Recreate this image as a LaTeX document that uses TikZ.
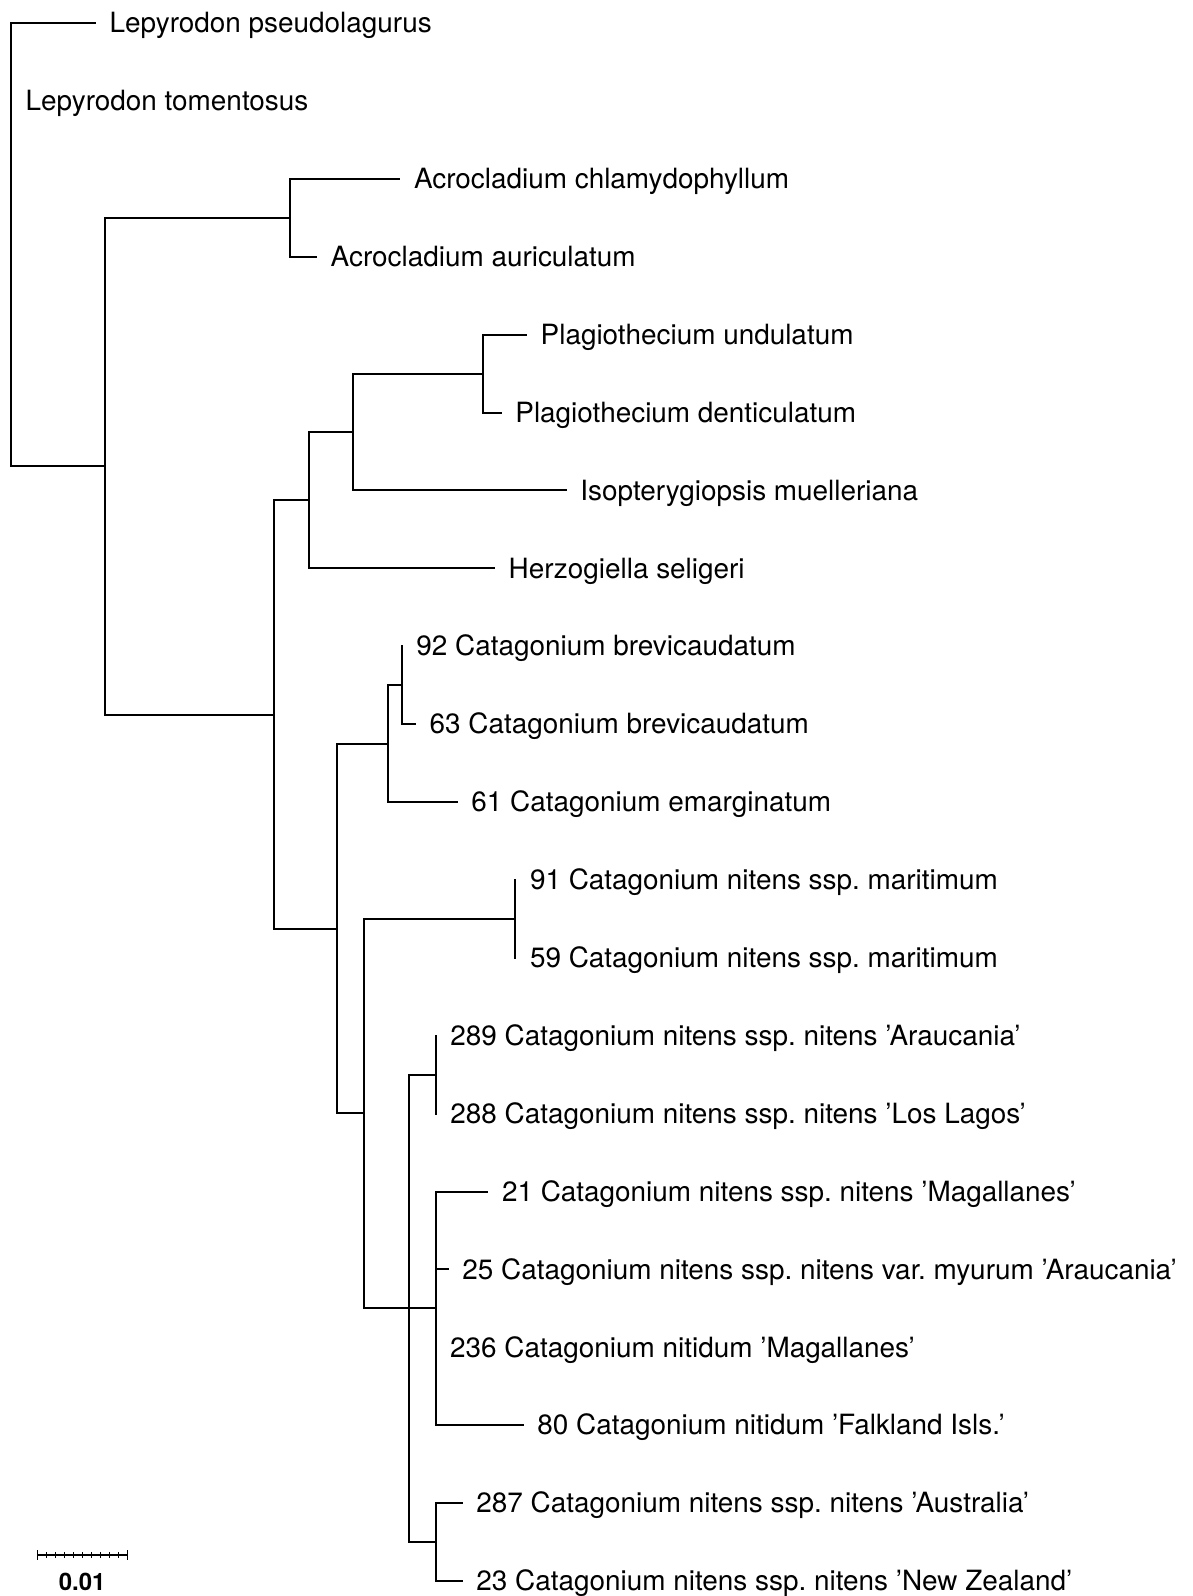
\documentclass[tikz,border=0pt]{standalone}
\usepackage{fontspec}
\setmainfont{TeX Gyre Heros}
\frenchspacing
\begin{document}
\begin{tikzpicture}[x=1pt,y=-1pt,
  br/.style={line width=2pt, line cap=rect},
  leaf/.style={anchor=base west, inner sep=0pt, xshift=14.5pt, yshift=-9.7pt,
    font=\fontsize{27.9}{33}\selectfont},
  tick/.style={line width=1.2pt}]
\useasboundingbox (0,0) rectangle (1192,1596);
% internal nodes
\coordinate (root) at (11,244.5);
\coordinate (A) at (105,466);
\coordinate (P) at (290,217.8);
\coordinate (B) at (274.3,715);
\coordinate (C) at (309.3,500);
\coordinate (E) at (353.3,432);
\coordinate (F) at (483.3,373.5);
\coordinate (D) at (337.3,929);
\coordinate (H) at (388.3,744);
\coordinate (I) at (401.7,685.2);
\coordinate (G) at (364.3,1113.3);
\coordinate (J) at (515.3,918.9);
\coordinate (K) at (409,1308.4);
\coordinate (L) at (435.7,1074.7);
\coordinate (M) at (435.5,1308.4);
\coordinate (N) at (435.5,1542);
% tips
\coordinate (t1) at (95,23);
\coordinate (t2) at (11,100.9);
\coordinate (t3) at (399.3,178.8);
\coordinate (t4) at (316,256.7);
\coordinate (t5) at (526,334.6);
\coordinate (t6) at (500.7,412.5);
\coordinate (t7) at (565.7,490.4);
\coordinate (t8) at (494,568.3);
\coordinate (t9) at (401.7,646.2);
\coordinate (t10) at (415,724.1);
\coordinate (t11) at (456.7,802);
\coordinate (t12) at (515.3,879.9);
\coordinate (t13) at (515.3,957.8);
\coordinate (t14) at (435.7,1035.7);
\coordinate (t15) at (435.7,1113.6);
\coordinate (t16) at (487.3,1191.5);
\coordinate (t17) at (447.7,1269.4);
\coordinate (t18) at (435.5,1347.3);
\coordinate (t19) at (522.7,1425.2);
\coordinate (t20) at (461.7,1503.1);
\coordinate (t21) at (461.7,1581);
% branches
\draw[br] (root) |- (t1);
\draw[br] (root) |- (A);
\draw[br] (A) |- (P);
\draw[br] (A) |- (B);
\draw[br] (P) |- (t3);
\draw[br] (P) |- (t4);
\draw[br] (B) |- (C);
\draw[br] (B) |- (D);
\draw[br] (C) |- (E);
\draw[br] (C) |- (t8);
\draw[br] (E) |- (F);
\draw[br] (E) |- (t7);
\draw[br] (F) |- (t5);
\draw[br] (F) |- (t6);
\draw[br] (D) |- (H);
\draw[br] (D) |- (G);
\draw[br] (H) |- (I);
\draw[br] (H) |- (t11);
\draw[br] (I) |- (t9);
\draw[br] (I) |- (t10);
\draw[br] (G) |- (J);
\draw[br] (G) |- (K);
\draw[br] (J) |- (t12);
\draw[br] (J) |- (t13);
\draw[br] (K) |- (L);
\draw[br] (K) |- (M);
\draw[br] (K) |- (N);
\draw[br] (L) |- (t14);
\draw[br] (L) |- (t15);
\draw[br] (M) |- (t16);
\draw[br] (M) |- (t17);
\draw[br] (M) |- (t18);
\draw[br] (M) |- (t19);
\draw[br] (N) |- (t20);
\draw[br] (N) |- (t21);
% labels
\node[leaf] (n1) at (t1) {Lepyrodon pseudolagurus};
\node[leaf] (n2) at (t2) {Lepyrodon tomentosus};
\node[leaf] (n3) at (t3) {Acrocladium chlamydophyllum};
\node[leaf] (n4) at (t4) {Acrocladium auriculatum};
\node[leaf] (n5) at (t5) {Plagiothecium undulatum};
\node[leaf] (n6) at (t6) {Plagiothecium denticulatum};
\node[leaf] (n7) at (t7) {Isopterygiopsis muelleriana};
\node[leaf] (n8) at (t8) {Herzogiella seligeri};
\node[leaf] (n9) at (t9) {92 Catagonium brevicaudatum};
\node[leaf] (n10) at (t10) {63 Catagonium brevicaudatum};
\node[leaf] (n11) at (t11) {61 Catagonium emarginatum};
\node[leaf] (n12) at (t12) {91 Catagonium nitens ssp. maritimum};
\node[leaf] (n13) at (t13) {59 Catagonium nitens ssp. maritimum};
\node[leaf] (n14) at (t14) {289 Catagonium nitens ssp. nitens ’Araucania’};
\node[leaf] (n15) at (t15) {288 Catagonium nitens ssp. nitens ’Los Lagos’};
\node[leaf] (n16) at (t16) {21 Catagonium nitens ssp. nitens ’Magallanes’};
\node[leaf] (n17) at (t17) {25 Catagonium nitens ssp. nitens var. myurum ’Araucania’};
\node[leaf] (n18) at (t18) {236 Catagonium nitidum ’Magallanes’};
\node[leaf] (n19) at (t19) {80 Catagonium nitidum ’Falkland Isls.’};
\node[leaf] (n20) at (t20) {287 Catagonium nitens ssp. nitens ’Australia’};
\node[leaf] (n21) at (t21) {23 Catagonium nitens ssp. nitens ’New Zealand’};
% scale bar
\coordinate (s0) at (37.7,1555);
\coordinate (s1) at (127.7,1555);
\draw[line width=1.6pt] (s0) -- (s1);
\foreach \i in {1,...,9} {\draw[tick] ([xshift=9*\i pt]s0) ++(0,-3) -- ++(0,6);}
\draw[tick] (s0) ++(0,-5) -- ++(0,10);
\draw[tick] (s1) ++(0,-5) -- ++(0,10);
\node[anchor=base, inner sep=0pt, font=\fontsize{24}{28}\selectfont\bfseries] (sl) at (82.2,1590) {0.01};
\end{tikzpicture}
\end{document}
